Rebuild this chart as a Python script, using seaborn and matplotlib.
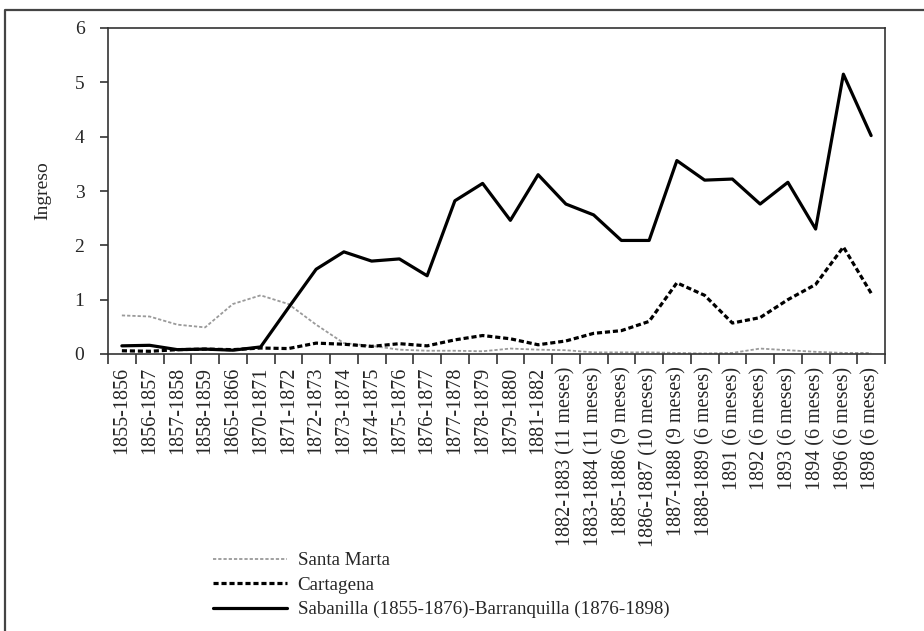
import matplotlib
matplotlib.use("Agg")
import matplotlib.pyplot as plt
from matplotlib.lines import Line2D
import numpy as np
import pandas as pd
import seaborn as sns

periodos = [
    "1855-1856", "1856-1857", "1857-1858", "1858-1859", "1865-1866",
    "1870-1871", "1871-1872", "1872-1873", "1873-1874", "1874-1875",
    "1875-1876", "1876-1877", "1877-1878", "1878-1879", "1879-1880",
    "1881-1882", "1882-1883 (11 meses)", "1883-1884 (11 meses)",
    "1885-1886 (9 meses)", "1886-1887 (10 meses)", "1887-1888 (9 meses)",
    "1888-1889 (6 meses)", "1891 (6 meses)", "1892 (6 meses)",
    "1893 (6 meses)", "1894 (6 meses)", "1896 (6 meses)", "1898 (6 meses)",
]

santa_marta = [0.71, 0.69, 0.54, 0.49, 0.92, 1.08, 0.92, 0.54, 0.20, 0.15,
               0.08, 0.06, 0.06, 0.05, 0.10, 0.08, 0.07, 0.03, 0.03, 0.03,
               0.02, 0.01, 0.02, 0.10, 0.07, 0.04, 0.02, 0.02]
cartagena = [0.06, 0.05, 0.08, 0.09, 0.08, 0.11, 0.10, 0.20, 0.18, 0.14,
             0.19, 0.15, 0.26, 0.34, 0.28, 0.17, 0.24, 0.38, 0.43, 0.60,
             1.31, 1.08, 0.57, 0.67, 1.00, 1.28, 1.97, 1.12]
sabanilla = [0.15, 0.16, 0.08, 0.09, 0.07, 0.13, 0.85, 1.56, 1.88, 1.71,
             1.75, 1.44, 2.82, 3.14, 2.46, 3.30, 2.76, 2.56, 2.09, 2.09,
             3.56, 3.20, 3.22, 2.76, 3.16, 2.30, 5.15, 4.02]

series_names = ["Santa Marta", "Cartagena",
                "Sabanilla (1855-1876)-Barranquilla (1876-1898)"]
y_ticks = [0, 1, 2, 3, 4, 5, 6]

sns.set_style("ticks")
plt.rcParams["font.family"] = ["Liberation Serif", "DejaVu Serif"]

fig = plt.figure(figsize=(9.24, 6.31), dpi=100)
ax = fig.add_axes([108 / 924, 1 - 354 / 631, 777 / 924, 326 / 631])

pos = np.arange(len(periodos))
styles = [
    dict(color="#9a9a9a", linewidth=1.3, dashes=(1.8, 1.1)),
    dict(color="black", linewidth=2.3, dashes=(1.6, 0.9)),
    dict(color="black", linewidth=2.3),
]
for name, vals, st in zip(series_names, [santa_marta, cartagena, sabanilla], styles):
    df = pd.DataFrame({"pos": pos, "valor": vals})
    dashes = st.pop("dashes", None)
    line_ax = sns.lineplot(data=df, x="pos", y="valor", ax=ax, label=name, **st)
    if dashes is not None:
        line_ax.lines[-1].set_dashes(dashes)

ax.set_xlim(-0.5, len(periodos) - 0.5)
ax.set_ylim(0, 6)
ax.set_yticks(y_ticks)
ax.set_yticklabels([str(t) for t in y_ticks])
ax.set_xticks(pos)
ax.set_xticklabels(periodos, rotation=90, va="top", ha="center")
ax.set_xticks(np.arange(-0.5, len(periodos), 1.0), minor=True)
ax.tick_params(axis="x", which="major", length=0, pad=9, labelsize=14.5)
ax.tick_params(axis="x", which="minor", length=7, width=1.2, direction="out", color="#333")
ax.tick_params(axis="y", length=6, width=1.2, direction="out", color="#333", pad=11, labelsize=14)
ax.set_xlabel("")
ax.set_ylabel("Ingreso", fontsize=14)
ax.yaxis.set_label_coords(-0.073, 0.5)
for sp in ax.spines.values():
    sp.set_visible(True)
    sp.set_color("#333")
    sp.set_linewidth(1.2)

handles, labels = ax.get_legend_handles_labels()
ax.get_legend().remove()
fig.legend(handles, labels, loc="upper left", bbox_to_anchor=(213 / 924, 1 - 552 / 631),
           frameon=False, fontsize=13.7, handlelength=3.9, handletextpad=0.55,
           labelspacing=0.38, borderpad=0, borderaxespad=0)

frame = Line2D([5 / 924, 5 / 924, 1.0], [0.0, 1 - 10 / 631, 1 - 10 / 631],
               transform=fig.transFigure, color="#444", linewidth=1.6)
fig.add_artist(frame)

fig.savefig("out.png", dpi=100)
